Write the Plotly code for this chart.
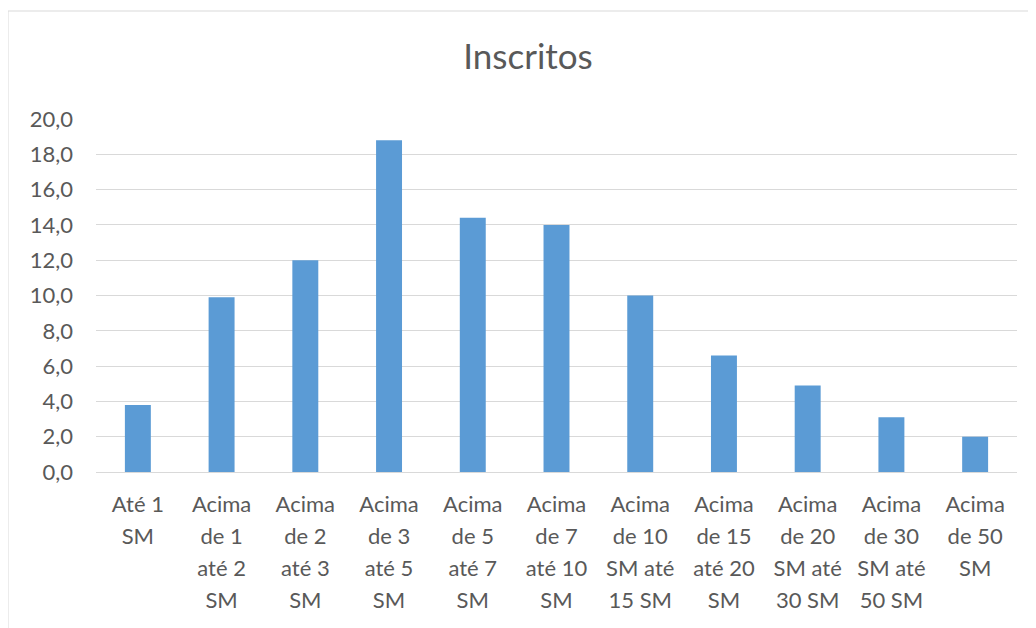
import plotly.graph_objects as go

categories = [
    "Até 1<br>SM",
    "Acima<br>de 1<br>até 2<br>SM",
    "Acima<br>de 2<br>até 3<br>SM",
    "Acima<br>de 3<br>até 5<br>SM",
    "Acima<br>de 5<br>até 7<br>SM",
    "Acima<br>de 7<br>até 10<br>SM",
    "Acima<br>de 10<br>SM até<br>15 SM",
    "Acima<br>de 15<br>até 20<br>SM",
    "Acima<br>de 20<br>SM até<br>30 SM",
    "Acima<br>de 30<br>SM até<br>50 SM",
    "Acima<br>de 50<br>SM",
]
values = [3.8, 9.9, 12.0, 18.8, 14.4, 14.0, 10.0, 6.6, 4.9, 3.1, 2.0]
y_ticks = [0, 2, 4, 6, 8, 10, 12, 14, 16, 18, 20]
y_tick_labels = ["0,0", "2,0", "4,0", "6,0", "8,0", "10,0", "12,0", "14,0", "16,0", "18,0", "20,0"]

TEXT = "#595959"
GRID = "#D9D9D9"
BAR = "#5B9BD5"
FONT = "Lato, Open Sans, sans-serif"

# the page shows the figure offset by 8px (body margin)
OFF = 8
W, H = 1036 - OFF, 628 - OFF
ML, MR, MT, MB = 96 - OFF, 19, 119 - OFF, 156
pw, ph = W - ML - MR, H - MT - MB

def styled(lbl):
    return "<br>".join(f"<span style='font-size:22px'>{p}</span>" for p in lbl.split("<br>"))

x_idx = list(range(len(categories)))

fig = go.Figure(
    go.Bar(x=x_idx, y=values, marker=dict(color=BAR, line=dict(width=0)), width=0.31)
)

# chart border (left & top) at page px x=8, y=11
bx = (8 - OFF - ML) / pw
by = (H - MB - (11 - OFF)) / ph
fig.add_shape(type="line", xref="paper", yref="paper", x0=bx, x1=bx, y0=-1, y1=by,
              line=dict(color=GRID, width=1))
fig.add_shape(type="line", xref="paper", yref="paper", x0=bx, x1=1.5, y0=by, y1=by,
              line=dict(color=GRID, width=1))

fig.update_layout(
    width=W, height=H,
    margin=dict(l=ML, r=MR, t=MT, b=MB, autoexpand=False),
    paper_bgcolor="white", plot_bgcolor="white",
    font=dict(family=FONT, color=TEXT),
    showlegend=False,
    title=dict(text="Inscritos", x=(528 - OFF) / W, xanchor="center", xref="container",
               y=1 - (57 - OFF) / H, yanchor="middle", yref="container",
               font=dict(size=35, color=TEXT, family=FONT)),
    xaxis=dict(
        range=[-0.5, len(categories) - 0.5],
        tickmode="array", tickvals=x_idx, ticktext=[styled(c) for c in categories],
        tickfont=dict(size=24.6, color=TEXT, family=FONT),
        tickangle=0,
        showgrid=False, showline=False, zeroline=False, ticks="",
        ticklabelstandoff=14,
        fixedrange=True,
    ),
    yaxis=dict(
        range=[0, 20],
        tickmode="array", tickvals=y_ticks, ticktext=y_tick_labels,
        tickfont=dict(size=22, color=TEXT, family=FONT),
        showgrid=True, gridcolor=GRID, gridwidth=1,
        zeroline=True, zerolinecolor=GRID, zerolinewidth=1,
        showline=False, ticks="",
        ticklabelstandoff=22,
        fixedrange=True,
    ),
)

fig.write_html("out.html")
